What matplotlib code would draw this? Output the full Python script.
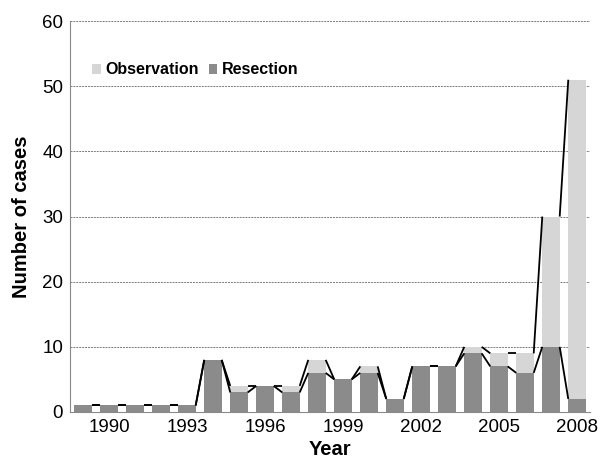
import matplotlib
matplotlib.use("Agg")
import matplotlib.pyplot as plt
import numpy as np

plt.rcParams['font.family'] = ['Liberation Sans', 'DejaVu Sans']

years = list(range(1989, 2009))
resection = [1, 1, 1, 1, 1, 8, 3, 4, 3, 6, 5, 6, 2, 7, 7, 9, 7, 6, 10, 2]
observation = [0, 0, 0, 0, 0, 0, 1, 0, 1, 2, 0, 1, 0, 0, 0, 1, 2, 3, 20, 49]
tick_years = [1990, 1993, 1996, 1999, 2002, 2005, 2008]
y_ticks = [0, 10, 20, 30, 40, 50, 60]

res_color = '#8b8b8b'
obs_color = '#d6d6d6'
width = 0.67

fig = plt.figure(figsize=(5.98, 4.59), dpi=100)
ax = fig.add_axes([0.117, 0.1024, 0.8696, 0.8516])

x = np.array(years, dtype=float)
res = np.array(resection, dtype=float)
obs = np.array(observation, dtype=float)
tot = res + obs

ax.bar(x, res, width=width, color=res_color, label='Resection', zorder=2)
ax.bar(x, obs, width=width, bottom=res, color=obs_color, label='Observation', zorder=2)

# series lines joining the tops of neighbouring bars
for top in (res, tot):
    for i in range(len(x) - 1):
        ax.plot([x[i] + width / 2, x[i + 1] - width / 2], [top[i], top[i + 1]],
                color='black', lw=1.3, zorder=3, solid_capstyle='butt')

ax.set_xlim(1988.5, 2008.5)
ax.set_ylim(0, 60)
ax.set_yticks(y_ticks)
ax.set_xticks(tick_years)
ax.set_xticklabels([str(t) for t in tick_years])
ax.tick_params(axis='both', length=0, labelsize=13.5, pad=5)

ax.yaxis.grid(True, color='#7a7a7a', lw=0.7, ls=(0, (2, 1)))
ax.set_axisbelow(True)
for side in ('top', 'right'):
    ax.spines[side].set_visible(False)
for side in ('left', 'bottom'):
    ax.spines[side].set_color('#8a8a8a')
    ax.spines[side].set_linewidth(0.8)
    ax.spines[side].set_linestyle((0, (2, 1)))

ax.set_xlabel('Year', fontsize=14.5, fontweight='bold', labelpad=3)
ax.set_ylabel('Number of cases', fontsize=14.5, fontweight='bold', labelpad=8)

handles, labels = ax.get_legend_handles_labels()
leg = ax.legend(handles[::-1], labels[::-1], loc='center left',
                bbox_to_anchor=(0.03, 0.875), ncol=2, frameon=False,
                handlelength=0.55, handleheight=0.55, handletextpad=0.3,
                columnspacing=0.6, borderaxespad=0,
                prop={'weight': 'bold', 'size': 11.5})

fig.savefig('out.png', dpi=100)
